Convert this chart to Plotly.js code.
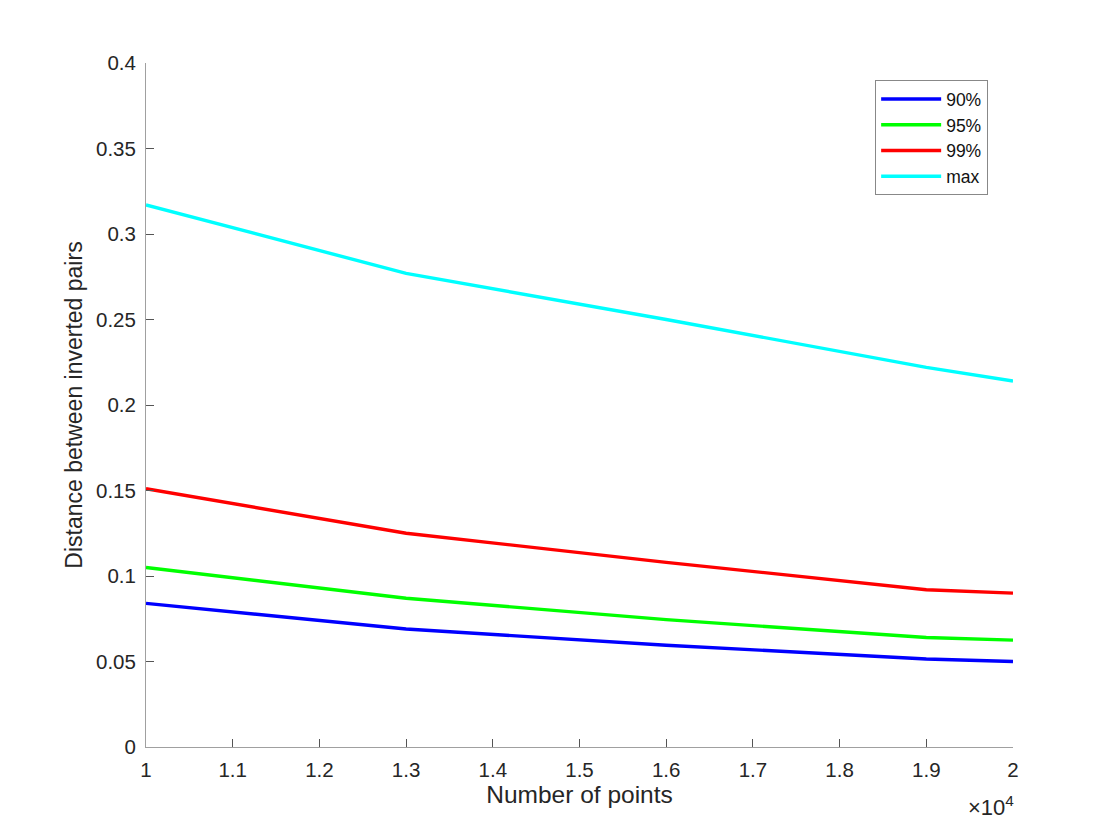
<!DOCTYPE html>
<html>
<head>
<meta charset="utf-8">
<script src="https://cdn.plot.ly/plotly-3.0.1.min.js"></script>
<style>
  body { margin: 0; background: #fff; }
  #chart { width: 1120px; height: 840px; }
</style>
</head>
<body>
<div id="chart"></div>
<script>
// number of points
const nPoints = [10000, 13000, 16000, 19000, 20000];

// distance between inverted pairs, per percentile
const p90 = [0.084, 0.069, 0.0595, 0.0515, 0.050];
const p95 = [0.105, 0.087, 0.0745, 0.064, 0.0625];
const p99 = [0.151, 0.125, 0.108, 0.092, 0.090];
const pMax = [0.317, 0.277, 0.250, 0.222, 0.214];

const seriesNames = ["90%", "95%", "99%", "max"];
const seriesColors = ["#0000ff", "#00ff00", "#ff0000", "#00ffff"];

const xTickVals = [10000, 11000, 12000, 13000, 14000, 15000, 16000, 17000, 18000, 19000, 20000];
const xTickText = ["1", "1.1", "1.2", "1.3", "1.4", "1.5", "1.6", "1.7", "1.8", "1.9", "2"];
const yTickVals = [0, 0.05, 0.1, 0.15, 0.2, 0.25, 0.3, 0.35, 0.4];
const yTickText = ["0", "0.05", "0.1", "0.15", "0.2", "0.25", "0.3", "0.35", "0.4"];

const font = "Liberation Sans, Arial, Helvetica, sans-serif";
const textColor = "#262626";

const traces = [p90, p95, p99, pMax].map((ys, i) => ({
    x: nPoints,
    y: ys,
    name: seriesNames[i],
    type: 'scatter',
    mode: 'lines',
    line: {color: seriesColors[i], width: 3.4}
}));

const axisCommon = {
    showgrid: false,
    zeroline: false,
    showline: true,
    linecolor: "#a0a0a0",
    linewidth: 1,
    ticks: "inside",
    ticklen: 8,
    tickcolor: "#555",
    tickfont: {family: font, size: 20.5, color: textColor},
    mirror: false
};

const layout = {
    width: 1120,
    height: 840,
    margin: {l: 146, r: 107, t: 63, b: 93},
    paper_bgcolor: "#fff",
    plot_bgcolor: "#fff",
    showlegend: true,
    legend: {
        x: 0.841, y: 0.975,
        xanchor: "left", yanchor: "top",
        bgcolor: "#fff",
        bordercolor: "#888",
        borderwidth: 1,
        font: {family: font, size: 17.5, color: "#111"},
        tracegroupgap: 0,
        itemwidth: 60
    },
    xaxis: Object.assign({}, axisCommon, {
        range: [10000, 20000],
        tickvals: xTickVals,
        ticktext: xTickText,
        ticklabelstandoff: 4,
        title: {text: "Number of points", font: {family: font, size: 24.5, color: textColor}, standoff: 5}
    }),
    yaxis: Object.assign({}, axisCommon, {
        range: [0, 0.4],
        tickvals: yTickVals,
        ticktext: yTickText,
        ticklabelstandoff: 5,
        title: {text: "Distance between inverted pairs", font: {family: font, size: 23, color: textColor}, standoff: 6}
    }),
    annotations: [{
        xref: "paper", yref: "paper",
        x: 1.003, y: -0.063,
        xanchor: "right", yanchor: "top",
        showarrow: false,
        text: "×10<sup>4</sup>",
        font: {family: font, size: 22, color: textColor}
    }]
};

Plotly.newPlot("chart", traces, layout, {displayModeBar: false, staticPlot: true});
</script>
</body>
</html>
